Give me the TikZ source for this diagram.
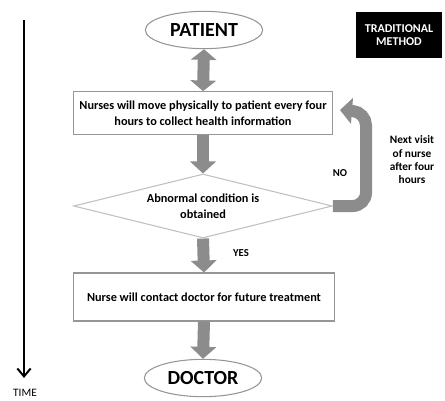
\documentclass[tikz,border=0pt]{standalone}
\usepackage{fontspec}
\setmainfont{Carlito}
\usetikzlibrary{shapes.geometric,arrows.meta,positioning,calc}
\definecolor{flowgray}{RGB}{140,140,140}
\definecolor{edgegray}{RGB}{150,150,150}

\tikzset{
    endpoint/.style={ellipse, draw=edgegray, thick, minimum width=88pt, minimum height=28pt, font=\fontsize{15}{17}\selectfont\bfseries},
    stepbox/.style={rectangle, draw=edgegray, thick, align=center, font=\fontsize{9.2}{12}\selectfont\bfseries},
    decision/.style={diamond, draw=edgegray!60, thick, aspect=4, minimum width=194pt, minimum height=48pt, inner sep=0pt, align=center, font=\fontsize{9.2}{12}\selectfont\bfseries},
    blockarrow/.style={draw=flowgray, line width=9pt, -{Triangle[width=19pt,length=9pt]}},
    smalltext/.style={font=\fontsize{8}{10}\selectfont\bfseries, align=center}
}

\begin{document}
\begin{tikzpicture}[x=0.75pt, y=-0.75pt]
    \useasboundingbox (0,0) rectangle (445,400);
    % flow
    \node[endpoint] (patient) at (204,30) {PATIENT};
    \node[stepbox, minimum width=194pt, minimum height=32pt] (visit) at (203,113) {Nurses will move physically to patient every four\\hours to collect health information};
    \node[decision] (check) at (203,206) {Abnormal condition is\\obtained};
    \node[stepbox, minimum width=196pt, minimum height=36pt] (contact) at (204,297) {Nurse will contact doctor for future treatment};
    \node[endpoint] (doctor) at (203,378) {DOCTOR};
    \node[fill=black, text=white, minimum width=64pt, minimum height=34pt, align=center, font=\fontsize{9}{10}\selectfont\bfseries] (method) at (399,35) {TRADITIONAL\\METHOD};

    \draw[draw=flowgray, line width=9pt, {Triangle[width=19pt,length=8pt]}-{Triangle[width=19pt,length=8pt]}] (patient.south) -- (visit.north);
    \draw[blockarrow] (visit.south) -- (check.north);
    \draw[blockarrow] (check.south) -- (contact.north);
    \draw[blockarrow] (contact.south) -- (doctor.north);

    % loop back
    \coordinate (back) at (340,110);
    \draw[blockarrow, rounded corners=10pt] (check.east) -- (366,206) -- (366,112) -- (back);
    \node[smalltext] (no) at (340,173) {NO};
    \node[smalltext] (yes) at (241,253) {YES};
    \node[smalltext, font=\fontsize{8.5}{10}\selectfont\bfseries] (note) at (412,160) {Next visit\\of nurse\\after four\\hours};

    % time axis
    \coordinate (ttop) at (24,20);
    \node[font=\fontsize{8.5}{10}\selectfont] (time) at (25,393) {TIME};
    \draw[line width=1.5pt, -{Straight Barb[length=6pt,width=10pt]}, shorten >=5pt] (ttop) -- (ttop |- time.north);
\end{tikzpicture}
\end{document}
